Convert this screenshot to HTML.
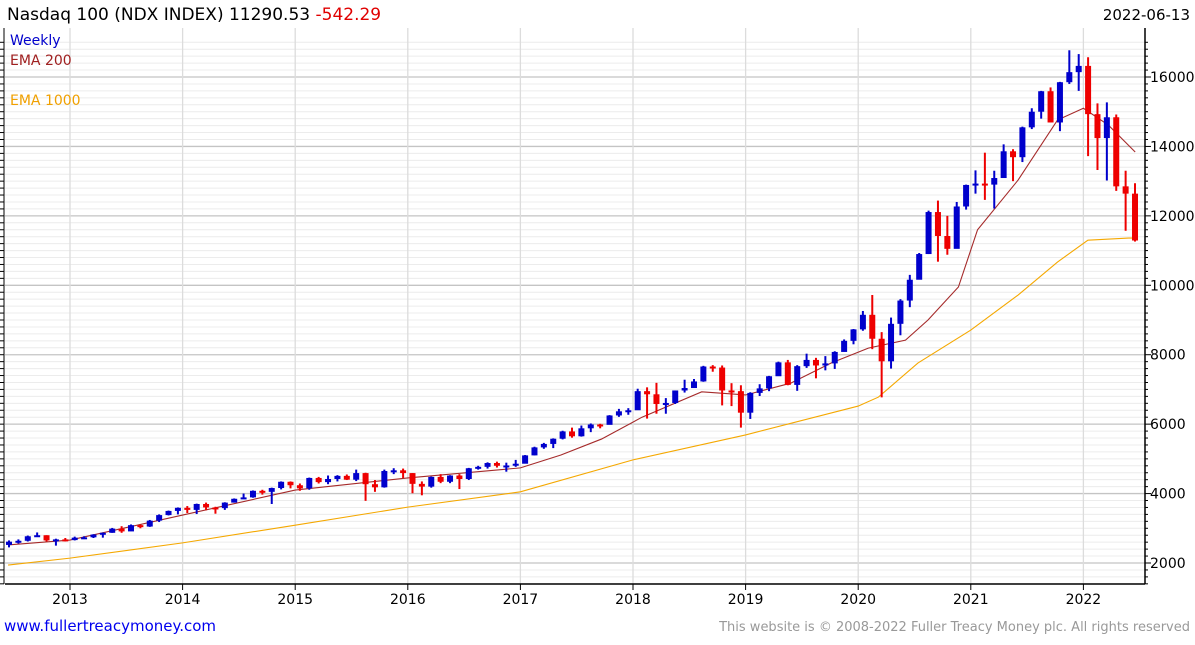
<!DOCTYPE html>
<html><head><meta charset="utf-8"><style>
body{margin:0;background:#fff;font-family:"Liberation Sans","DejaVu Sans",sans-serif}
svg text{font-family:"DejaVu Sans","Liberation Sans",sans-serif}
</style></head><body>
<svg id="c" width="1195" height="640" xmlns="http://www.w3.org/2000/svg">
<rect width="1195" height="640" fill="#fff"/>
<g id="grid"></g>
<g id="ema1000"></g>
<g id="ema200"></g>
<g id="bars"></g>
<g id="axes"></g>
<text x="7" y="20" font-size="17" fill="#000">Nasdaq 100 (NDX INDEX) 11290.53 <tspan fill="#e00000">-542.29</tspan></text>
<text x="1190" y="20" font-size="15" text-anchor="end" fill="#000">2022-06-13</text>
<text x="10" y="45" font-size="14" fill="#0000cc">Weekly</text>
<text x="10" y="65" font-size="14" fill="#a02020">EMA 200</text>
<text x="10" y="105" font-size="14" fill="#f0a000">EMA 1000</text>
<text x="4" y="631" font-size="15" fill="#0000ee">www.fullertreacymoney.com</text>
<text x="1190" y="631" font-size="13" text-anchor="end" fill="#999">This website is © 2008-2022 Fuller Treacy Money plc. All rights reserved</text>
</svg>
<script>
const startYear = 2012, startMonth = 6;
const closes = [2615,2640,2770,2800,2650,2680,2660,
2730,2740,2820,2870,2990,2910,3090,3050,3220,3380,3500,3590,
3530,3700,3600,3580,3740,3850,3890,4080,4050,4160,4340,4240,
4150,4450,4330,4420,4510,4400,4590,4270,4180,4650,4670,4590,
4280,4200,4480,4340,4520,4420,4730,4770,4880,4800,4810,4860,
5100,5330,5430,5580,5790,5650,5880,5990,5980,6250,6370,6400,
6950,6860,6580,6610,6970,7040,7230,7660,7630,6970,6950,6330,
6900,7030,7380,7780,7130,7670,7850,7690,7750,8080,8400,8730,
9150,8460,7810,8890,9560,10160,10900,12110,11420,11050,12270,12890,
12930,12900,13090,13860,13690,14550,15000,15590,14690,15850,16140,16320,
14930,14240,14840,12850,12640,11290];
const highs = [2650,2680,2790,2880,2800,2700,2720,
2760,2770,2830,2880,3010,3060,3110,3110,3240,3400,3510,3600,
3640,3710,3740,3620,3750,3860,4000,4090,4110,4170,4350,4350,
4290,4460,4480,4520,4530,4550,4690,4600,4390,4690,4730,4720,
4590,4350,4490,4560,4530,4560,4740,4800,4900,4920,4890,4970,
5110,5350,5460,5590,5810,5900,5960,6020,6010,6260,6440,6460,
7020,7060,7190,6750,6970,7280,7300,7680,7700,7690,7180,7120,
6920,7150,7390,7800,7850,7700,8030,7910,7960,8100,8440,8740,
9260,9720,8650,9070,9600,10300,10930,12150,12440,12000,12400,12900,
13310,13820,13300,14060,13920,14570,15100,15600,15700,15860,16770,16660,
16570,15240,15270,14920,13300,12940];
const lows = [2450,2560,2620,2760,2620,2500,2620,
2650,2690,2720,2730,2870,2870,2920,3000,3040,3180,3370,3400,
3440,3410,3520,3420,3530,3740,3840,3880,3970,3700,4120,4150,
4080,4110,4290,4270,4350,4390,4360,3790,4050,4170,4560,4450,
4010,3950,4170,4300,4300,4130,4390,4690,4720,4750,4630,4770,
4870,5100,5290,5310,5560,5610,5640,5770,5880,6000,6210,6270,
6410,6160,6300,6300,6580,6910,7070,7220,7510,6540,6520,5900,
6150,6810,6950,7390,7120,6960,7620,7320,7550,7590,8090,8300,
8690,8160,6770,7600,8560,9370,10200,10900,10680,10880,11060,12180,
12640,12460,12210,13120,13000,13550,14500,14800,14690,14440,15800,15600,
13720,13320,13020,12720,11570,11260];
const firstOpen = 2520;
const ema200Dates = [2012.45,2013.0,2014.0,2015.0,2016.0,2017.0,2017.36,2017.72,2018.08,2018.61,2019.0,2019.4,2019.76,2020.09,2020.42,2020.62,2020.89,2021.06,2021.42,2021.77,2022.0,2022.22,2022.46];
const ema200Vals = [2520,2660,3380,4100,4450,4740,5110,5570,6200,6930,6840,7180,7760,8190,8420,9000,9950,11600,13030,14760,15100,14620,13840];
const ema1000Dates = [2012.45,2013.0,2014.0,2015.0,2016.0,2017.0,2018.0,2019.0,2020.0,2020.18,2020.53,2021.0,2021.42,2021.77,2022.04,2022.4,2022.46];
const ema1000Vals = [1940,2140,2580,3090,3610,4050,4970,5690,6520,6780,7760,8710,9720,10670,11300,11360,11360];
const yTicks = [2000,4000,6000,8000,10000,12000,14000,16000];
const years = [2013,2014,2015,2016,2017,2018,2019,2020,2021,2022];

const X = t => 70 + (t-2013)*112.6;
const Y = v => 563 - (v-2000)*0.034714;
const NS = "http://www.w3.org/2000/svg";
function mk(tag, attrs, parent){const e=document.createElementNS(NS,tag);for(const k in attrs)e.setAttribute(k,attrs[k]);parent.appendChild(e);return e;}

const grid=document.getElementById('grid'), axes=document.getElementById('axes');
for(let v=1400; v<=17000; v+=200){
  if(Y(v)<28||Y(v)>584) continue;
  const major = v%2000===0;
  const l=mk('line',{x1:5,x2:1145,y1:Y(v),y2:Y(v),stroke:major?'#c4c4c4':'#ececec','stroke-width':major?1.3:1},grid);
  
  
  const tk=mk('line',{x1:1145,x2:major?1151:1148,y1:Y(v),y2:Y(v),stroke:'#000'},axes);
  
  
  const tl=mk('line',{x1:0,x2:4,y1:Y(v),y2:Y(v),stroke:'#000'},axes);
  
  
}
yTicks.forEach(v=>{
  const t=mk('text',{x:1150,y:Y(v)+5,'font-size':14,fill:'#000'},axes);
  t.textContent=v;
  
  
});
years.forEach(yr=>{
  const x=X(yr);
  const g=mk('line',{x1:x,x2:x,y1:28,y2:584,stroke:'#dcdcdc','stroke-width':1.3},grid);
  
  
  const tk=mk('line',{x1:x,x2:x,y1:584,y2:590,stroke:'#000'},axes);
  
  
  const t=mk('text',{x:x,y:604,'font-size':14,'text-anchor':'middle',fill:'#000'},axes);
  t.textContent=yr;
  
  
});
const ax1=mk('line',{x1:5,x2:1145,y1:584,y2:584,stroke:'#000','stroke-width':1.5},axes);


const ax2=mk('line',{x1:1145,x2:1145,y1:28,y2:584,stroke:'#000','stroke-width':1.5},axes);


const ax3=mk('line',{x1:4,x2:4,y1:28,y2:584,stroke:'#000','stroke-width':1},axes);



function line(dates, vals, color, parent, name){
  const p=mk('polyline',{points:dates.map((d,i)=>X(d)+','+Y(vals[i])).join(' '),fill:'none',stroke:color,'stroke-width':1.1},parent);
  
  
}
line(ema1000Dates, ema1000Vals, '#f5a800', document.getElementById('ema1000'), 'ema-1000');
line(ema200Dates, ema200Vals, '#a52a2a', document.getElementById('ema200'), 'ema-200');

const bars=document.getElementById('bars');
let prev=firstOpen;
closes.forEach((c,i)=>{
  const m=startMonth-1+i;
  const t=startYear+(m+0.5)/12;
  const x=X(t);
  const up=c>=prev;
  const col=up?'#0000cc':'#ee0000';
  const w=mk('line',{x1:x,x2:x,y1:Y(highs[i]),y2:Y(lows[i]),stroke:col,'stroke-width':2},bars);
  
  
  const top=Y(Math.max(c,prev)), bot=Y(Math.min(c,prev));
  const r=mk('rect',{x:x-3,y:top,width:6,height:Math.max(2,bot-top),fill:col},bars);
  
  
  prev=c;
});
</script>
</body></html>
